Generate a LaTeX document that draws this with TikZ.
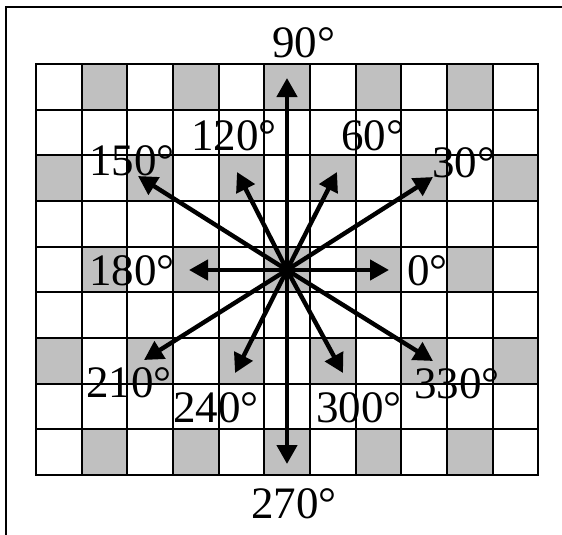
\documentclass[tikz,border=0pt]{standalone}
\usepackage{fontspec}
\setmainfont{Liberation Serif}
\usepackage{tikz}
\usetikzlibrary{arrows.meta}
\definecolor{cellgray}{RGB}{192,192,192}

\begin{document}
\begin{tikzpicture}[x=1pt, y=-1pt,
  frame/.style={draw, line width=2.2pt},
  cell/.style={fill=cellgray},
  gridline/.style={line width=2pt, line cap=rect},
  ray/.style={-{Triangle[length=19pt,width=20pt]}, line width=4.4pt},
  deg/.style={anchor=base west, inner sep=0pt, font=\fontsize{45}{54}\selectfont}
]
\def\cw{45.65}
\def\ch{45.67}
\useasboundingbox (0,0) rectangle (562,535);

% outer frame, only its left and top sides fall inside the picture
\coordinate (fl) at (6,535);
\coordinate (fc) at (6,7);
\coordinate (fr) at (562,7);
\draw[frame] (fl) -- (fc) -- (fr);

% shaded cells
\foreach \r in {0,4,8}
  \foreach \c in {1,3,5,7,9}
    \fill[cell] ({36+\c*\cw},{64+\r*\ch}) rectangle ++(\cw,\ch);
\foreach \r in {2,6}
  \foreach \c in {0,2,...,10}
    \fill[cell] ({36+\c*\cw},{64+\r*\ch}) rectangle ++(\cw,\ch);

% grid
\foreach \c in {0,...,11}
  \draw[gridline] ({36+\c*\cw},64) -- ({36+\c*\cw},{64+9*\ch});
\foreach \r in {0,...,9}
  \draw[gridline] (36,{64+\r*\ch}) -- ({36+11*\cw},{64+\r*\ch});

% centre and arrow tips
\coordinate (o) at (287,270);
\coordinate (t0) at (389,270);
\coordinate (t30) at (433,177);
\coordinate (t60) at (337,172);
\coordinate (t90) at (287,78);
\coordinate (t120) at (237,172);
\coordinate (t150) at (138,176);
\coordinate (t180) at (189,270);
\coordinate (t210) at (144,360);
\coordinate (t240) at (235,373);
\coordinate (t270) at (287,464);
\coordinate (t300) at (343,373);
\coordinate (t330) at (433,361);

\foreach \a in {0,30,60,90,120,150,180,210,240,270,300,330}
  \draw[ray] (o) -- (t\a);

% angle labels
\node[deg] (l90) at (272,58) {90°};
\node[deg] (l120) at (191,150) {120°};
\node[deg] (l60) at (341,150) {60°};
\node[deg] (l150) at (89,175) {150°};
\node[deg] (l30) at (432,177) {30°};
\node[deg] (l180) at (89,285) {180°};
\node[deg] (l0) at (407,285) {0°};
\node[deg] (l210) at (86,397) {210°};
\node[deg] (l330) at (414,398) {330°};
\node[deg] (l240) at (173,422) {240°};
\node[deg] (l300) at (316,422) {300°};
\node[deg] (l270) at (251,518) {270°};
\end{tikzpicture}
\end{document}
